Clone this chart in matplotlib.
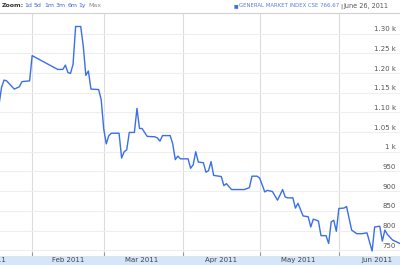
import matplotlib
matplotlib.use("Agg")
from matplotlib import pyplot as plt
from matplotlib.transforms import ScaledTranslation
import pandas as pd

# General Market Index
dates = ["2011-01-19", "2011-01-20", "2011-01-21", "2011-01-22", "2011-01-25", "2011-01-27",
         "2011-01-28", "2011-01-31", "2011-02-01", "2011-02-11", "2011-02-13", "2011-02-14",
         "2011-02-15", "2011-02-16", "2011-02-17", "2011-02-18", "2011-02-20", "2011-02-21",
         "2011-02-22", "2011-02-23", "2011-02-24", "2011-02-27", "2011-02-28", "2011-03-01",
         "2011-03-02", "2011-03-03", "2011-03-04", "2011-03-07", "2011-03-08", "2011-03-09",
         "2011-03-10", "2011-03-11", "2011-03-13", "2011-03-14", "2011-03-15", "2011-03-16",
         "2011-03-18", "2011-03-21", "2011-03-22", "2011-03-23", "2011-03-24", "2011-03-27",
         "2011-03-28", "2011-03-29", "2011-03-30", "2011-03-31", "2011-04-03", "2011-04-04",
         "2011-04-05", "2011-04-06", "2011-04-07", "2011-04-09", "2011-04-10", "2011-04-11",
         "2011-04-12", "2011-04-13", "2011-04-16", "2011-04-17", "2011-04-18", "2011-04-20",
         "2011-04-25", "2011-04-27", "2011-04-28", "2011-04-30", "2011-05-01", "2011-05-02",
         "2011-05-03", "2011-05-04", "2011-05-06", "2011-05-08", "2011-05-10", "2011-05-11",
         "2011-05-12", "2011-05-14", "2011-05-15", "2011-05-16", "2011-05-18", "2011-05-20",
         "2011-05-21", "2011-05-22", "2011-05-24", "2011-05-25", "2011-05-27", "2011-05-28",
         "2011-05-29", "2011-05-30", "2011-05-31", "2011-06-01", "2011-06-03", "2011-06-04",
         "2011-06-06", "2011-06-08", "2011-06-10", "2011-06-12", "2011-06-14", "2011-06-15",
         "2011-06-17", "2011-06-18", "2011-06-19", "2011-06-20", "2011-06-22", "2011-06-25"]
values = [1118, 1163, 1182, 1180, 1159, 1165,
          1178, 1180, 1244, 1209, 1209, 1220,
          1201, 1199, 1222, 1318, 1318, 1268,
          1194, 1205, 1159, 1158, 1133, 1058,
          1020, 1041, 1047, 1047, 984, 1000,
          1005, 1049, 1049, 1110, 1059, 1059,
          1039, 1038, 1035, 1027, 1041, 1041,
          1020, 980, 989, 982, 982, 958,
          967, 1000, 974, 972, 948, 952,
          975, 940, 937, 914, 919, 904,
          904, 909, 938, 938, 933, 916,
          898, 902, 899, 877, 904, 885,
          883, 883, 857, 869, 837, 835,
          809, 829, 824, 787, 787, 767,
          822, 826, 798, 856, 857, 861,
          801, 792, 792, 794, 748, 809,
          811, 773, 801, 790, 776, 766.67]

y_ticks = [750, 800, 850, 900, 950, 1000, 1050, 1100, 1150, 1200, 1250, 1300]
y_labels = ["750", "800", "850", "900", "950", "1 k", "1.05 k", "1.10 k",
            "1.15 k", "1.20 k", "1.25 k", "1.30 k"]
month_starts = ["2011-02-01", "2011-03-01", "2011-04-01", "2011-05-01", "2011-06-01"]
month_mids = ["2011-02-15", "2011-03-16", "2011-04-16", "2011-05-16", "2011-06-16"]
month_labels = ["Feb 2011", "Mar 2011", "Apr 2011", "May 2011", "Jun 2011"]

x = pd.to_datetime(dates)
plt.rcParams['font.family'] = ['DejaVu Sans']

fig = plt.figure(figsize=(4.0, 2.65), dpi=100)
ax = fig.add_axes([0, 0.035, 1, 0.917])
band = fig.add_axes([0, 0, 1, 0.035], sharex=ax)

ax.plot(x, values, color="#3a6fe6", lw=1.0)

# grid
ax.set_xticks(pd.to_datetime(month_starts))
ax.grid(axis="x", color="#dcdcdc", lw=0.8)
ax.set_yticks(y_ticks, y_labels)
ax.grid(axis="y", color="#eeeeee", lw=0.8)
ax.set_axisbelow(True)
for s in ["left", "right", "bottom"]:
    ax.spines[s].set_visible(False)
ax.spines["top"].set_color("#d0d0d0")
ax.tick_params(axis="x", direction="in", length=3, color="#999999", labelbottom=False)

ax.yaxis.tick_right()
ax.tick_params(axis="y", length=0, pad=-3, labelsize=5, labelcolor="#555555")
off = ScaledTranslation(0, 1 / 72, fig.dpi_scale_trans)
for lab in ax.get_yticklabels():
    lab.set_horizontalalignment("right")
    lab.set_verticalalignment("bottom")
    lab.set_transform(lab.get_transform() + off)

# date band
band.set_facecolor("#d6e5f7")
band.set_yticks([])
for s in band.spines.values():
    s.set_visible(False)
band.set_xticks(pd.to_datetime(month_mids), month_labels, minor=True)
band.tick_params(axis="x", which="major", length=0, labelbottom=False)
band.tick_params(axis="x", which="minor", length=0, pad=-3.4, labelsize=5, labelcolor="#444444")
for lab in band.get_xticklabels(minor=True):
    lab.set_verticalalignment("center")
# January label, mostly off the left edge
band.text(pd.Timestamp("2011-01-16"), 0.55, "Jan 2011", fontsize=5, color="#444444",
          ha="center", va="center", transform=band.get_xaxis_transform(), clip_on=True)

ax.set_xlim(pd.Timestamp("2011-01-19 10:00"), pd.Timestamp("2011-06-24 22:00"))
ax.set_ylim(736, 1353)

# header
fig.text(0.005, 0.978, "Zoom:", fontsize=4.5, weight="bold", color="#333333", va="center")
for xp, t in zip([0.06, 0.085, 0.11, 0.14, 0.168, 0.195], ["1d", "5d", "1m", "3m", "6m", "1y"]):
    fig.text(xp, 0.978, t, fontsize=4.5, color="#4a66c8", va="center")
fig.text(0.22, 0.978, "Max", fontsize=4.5, color="#888888", va="center")
fig.text(0.585, 0.978, "\u25a0", fontsize=3.5, color="#3a6fe6", va="center")
fig.text(0.598, 0.978, "GENERAL MARKET INDEX CSE 766.67", fontsize=3.9, color="#5a7fd8", va="center")
fig.text(0.85, 0.978, "|", fontsize=4.5, color="#555555", va="center")
fig.text(0.858, 0.978, "June 26, 2011", fontsize=4.7, color="#555555", va="center")

fig.savefig("out.png", dpi=100)
